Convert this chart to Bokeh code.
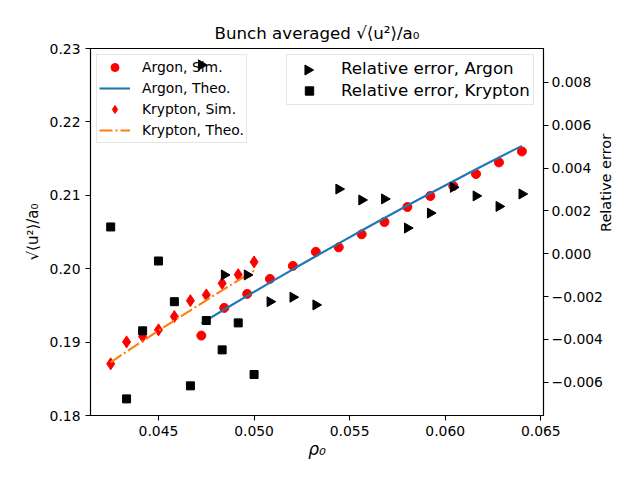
import math
from bokeh.plotting import figure
from bokeh.models import (Range1d, LinearAxis, FixedTicker, CustomJSTickFormatter,
                          Legend, LegendItem)
from bokeh.embed import file_html
from bokeh.resources import INLINE

# ---------------- data ----------------
argon_rho = [0.04724, 0.04844, 0.04964, 0.05083, 0.05203, 0.05323, 0.05443, 0.05563,
             0.05682, 0.05802, 0.05922, 0.06042, 0.06161, 0.06281, 0.06401]
argon_sim = [0.19089, 0.19466, 0.19657, 0.19861, 0.20038, 0.20230, 0.20291, 0.20468,
             0.20637, 0.20841, 0.20991, 0.21127, 0.21290, 0.21448, 0.21598]
argon_theo = [0.19256, 0.19444, 0.19629, 0.19811, 0.19992, 0.20170, 0.20346, 0.20520,
              0.20691, 0.20861, 0.21028, 0.21192, 0.21355, 0.21515, 0.21673]
argon_err = [0.00882, -0.00099, -0.00099, -0.00224, -0.00203, -0.00239, 0.00302, 0.00251,
             0.00256, 0.00120, 0.00190, 0.00310, 0.00270, 0.00221, 0.00279]

krypton_rho = [0.04250, 0.04333, 0.04417, 0.04500, 0.04583, 0.04667, 0.04750, 0.04833,
               0.04917, 0.05000]
krypton_sim = [0.18704, 0.19003, 0.19075, 0.19167, 0.19348, 0.19565, 0.19643, 0.19801,
               0.19919, 0.20092]
krypton_theo = [0.18725, 0.18872, 0.19014, 0.19155, 0.19295, 0.19433, 0.19570, 0.19706,
                0.19840, 0.19973]
krypton_err = [0.00125, -0.00678, -0.00360, -0.00034, -0.00224, -0.00617, -0.00312, -0.00449,
               -0.00323, -0.00564]

x_ticks = [0.045, 0.050, 0.055, 0.060, 0.065]
y_ticks = [0.18, 0.19, 0.20, 0.21, 0.22, 0.23]
err_ticks = [-0.006, -0.004, -0.002, 0.0, 0.002, 0.004, 0.006, 0.008]

FONT = "DejaVu Sans"
TICK_FS = "13.9px"

W, H = 624, 462
FL, FR, FT, FB = 90, 545, 48, 415          # frame edges (px)
X0, X1 = 0.041443, 0.06514
Y0, Y1 = 0.18, 0.23
E0, E1 = -0.007555, 0.009585

def fmt(d):
    return CustomJSTickFormatter(code="""
        const a = Math.abs(tick) < 1e-12 ? 0 : tick;
        const s = Math.abs(a).toFixed(%d);
        return (a < 0 ? "\\u2212" : "") + s;
    """ % d)

p = figure(width=W, height=H, output_backend="svg", toolbar_location=None,
           x_range=Range1d(X0, X1), y_range=Range1d(Y0, Y1),
           min_border_left=FL, min_border_right=W - FR, min_border_top=FT,
           min_border_bottom=H - FB)
p.extra_y_ranges = {"err": Range1d(E0, E1)}

p.grid.visible = False
p.outline_line_color = "black"
p.outline_line_width = 1.1
p.background_fill_color = "white"
p.border_fill_color = "white"

p.title.text = "Bunch averaged \u221a\u27e8u\u00b2\u27e9/a\u2080"
p.title.align = "center"
p.title.text_font = FONT
p.title.text_font_size = "16.67px"
p.title.text_font_style = "normal"
p.title.text_color = "black"
p.title.standoff = 12

def style_axis(ax):
    ax.axis_line_color = "black"
    ax.axis_line_width = 1.1
    ax.major_tick_line_color = "black"
    ax.major_tick_line_width = 1.1
    ax.major_tick_out = 5
    ax.major_tick_in = 0
    ax.minor_tick_line_color = None
    ax.major_label_text_font = FONT
    ax.major_label_text_font_size = TICK_FS
    ax.major_label_text_color = "black"
    ax.major_label_standoff = 5
    ax.axis_label_text_font = FONT
    ax.axis_label_text_color = "black"

xa = p.xaxis[0]
style_axis(xa)
xa.ticker = FixedTicker(ticks=x_ticks)
xa.formatter = fmt(3)
xa.axis_label = "\u03c1\u2080"
xa.axis_label_text_font_size = "17px"
xa.axis_label_text_font_style = "italic"
xa.axis_label_standoff = 0

ya = p.yaxis[0]
style_axis(ya)
ya.ticker = FixedTicker(ticks=y_ticks)
ya.formatter = fmt(2)
ya.axis_label = "\u221a\u27e8u\u00b2\u27e9/a\u2080"
ya.axis_label_text_font_size = "15px"
ya.axis_label_text_font_style = "normal"
ya.axis_label_standoff = 5

ra = LinearAxis(y_range_name="err")
style_axis(ra)
ra.ticker = FixedTicker(ticks=err_ticks)
ra.formatter = fmt(3)
ra.major_label_standoff = 3
ra.axis_label = "Relative error"
ra.axis_label_text_font_size = "14.5px"
ra.axis_label_text_font_style = "normal"
ra.axis_label_standoff = 0
try:
    ra.axis_label_orientation = math.pi / 2
except Exception:
    pass
p.add_layout(ra, "right")

# ---------------- glyphs ----------------
r_as = p.scatter(argon_rho, argon_sim, marker="circle", size=9, color="red")
r_at = p.line(argon_rho, argon_theo, line_color="#1f77b4", line_width=2.1)
r_ks = p.scatter(krypton_rho, krypton_sim, marker="diamond", size=12, color="red")
r_kt = p.line(krypton_rho, krypton_theo, line_color="#ff7f0e", line_width=2.1,
              line_dash="13 3 2 3")
r_ae = p.scatter(argon_rho, argon_err, marker="triangle", angle=-math.pi / 2, size=10,
                 color="black", y_range_name="err", level="overlay")
r_ke = p.scatter(krypton_rho, krypton_err, marker="square", size=8, color="black",
                 y_range_name="err", level="overlay")

leg1 = Legend(items=[LegendItem(label="Argon, Sim.", renderers=[r_as]),
                     LegendItem(label="Argon, Theo.", renderers=[r_at]),
                     LegendItem(label="Krypton, Sim.", renderers=[r_ks]),
                     LegendItem(label="Krypton, Theo.", renderers=[r_kt])],
              location="top_left", margin=6, padding=2, spacing=1,
              glyph_width=31, glyph_height=20, label_height=20, label_standoff=12,
              label_text_font=FONT, label_text_font_size="13.9px",
              label_text_color="black",
              border_line_color="#cccccc", border_line_width=1,
              background_fill_alpha=0)
p.add_layout(leg1)

# legend swatch for the right-pointing triangle (Bokeh legends draw markers unrotated)
r_dummy = p.scatter([], [], marker="triangle", size=10, fill_alpha=0, line_alpha=0,
                    y_range_name="err")
leg2 = Legend(items=[LegendItem(label="Relative error, Argon", renderers=[r_dummy]),
                     LegendItem(label="Relative error, Krypton", renderers=[r_ke])],
              location=(196, 310), margin=0, padding=3, spacing=1,
              glyph_width=38, glyph_height=21, label_height=21, label_standoff=13,
              label_text_font=FONT, label_text_font_size="16.67px",
              label_text_color="black",
              border_line_color="#cccccc", border_line_width=1,
              background_fill_alpha=0)
p.add_layout(leg2)

sw_px, sw_py = 308.3, 69.5
sw_x = X0 + (sw_px - FL) / (FR - FL) * (X1 - X0)
sw_y = E0 + (FB - sw_py) / (FB - FT) * (E1 - E0)
p.scatter([sw_x], [sw_y], marker="triangle", angle=-math.pi / 2, size=10, color="black",
          y_range_name="err", level="overlay")

open("out.html", "w").write(file_html(p, INLINE))
